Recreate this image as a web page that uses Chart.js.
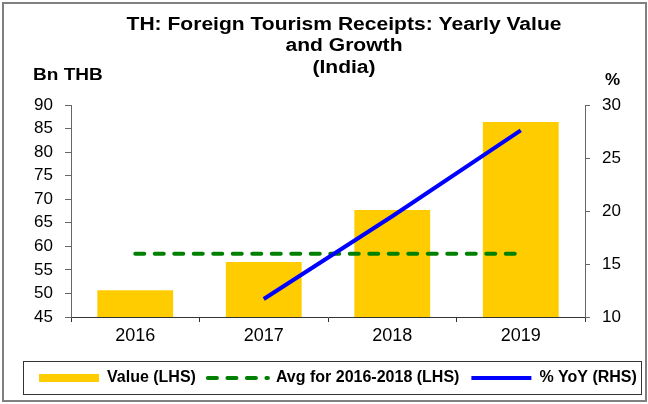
<!DOCTYPE html>
<html>
<head>
<meta charset="utf-8">
<script src="https://cdn.jsdelivr.net/npm/chart.js@4.4.0/dist/chart.umd.min.js"></script>
<style>
html, body { margin: 0; padding: 0; background: #fff; }
canvas { display: block; }
</style>
</head>
<body>
<canvas id="chart-area" width="648" height="404"></canvas>
<script>
// data
var years = ['2016', '2017', '2018', '2019'];
var valueLhs = [50.7, 56.7, 67.7, 86.4];
var avgLhs = [58.4, 58.4, 58.4, 58.4];
var yoyRhs = [null, 11.7, 19.5, 27.6];
var lhsTicks = [45, 50, 55, 60, 65, 70, 75, 80, 85, 90];
var rhsTicks = [10, 15, 20, 25, 30];
var seriesNames = ['Value (LHS)', 'Avg for 2016-2018 (LHS)', '% YoY (RHS)'];
var titleLines = ['TH: Foreign Tourism Receipts: Yearly Value', 'and Growth', '(India)'];

var FONT = "'Liberation Sans', Arial, sans-serif";
// right padding is negative so the legend keeps a single row
var padLeft = 27, padRight = -12, padTop = 105, padBottom = 8;

var decor = {
	id: 'decor',
	beforeDraw: function (chart)
	{
		var ctx = chart.ctx;
		ctx.save();
		ctx.fillStyle = '#fff';
		ctx.fillRect(0, 0, chart.width, chart.height);
		ctx.restore();
	},
	afterDraw: function (chart)
	{
		var ctx = chart.ctx;
		ctx.save();
		// outer frame
		ctx.strokeStyle = '#808080';
		ctx.lineWidth = 2;
		ctx.strokeRect(3, 3, 643, 398);
		// legend box
		ctx.strokeStyle = '#333';
		ctx.lineWidth = 1;
		ctx.strokeRect(23.5, 361.5, 618, 33);

		// title
		ctx.fillStyle = '#000';
		ctx.textAlign = 'center';
		ctx.textBaseline = 'middle';
		ctx.font = 'bold 18px ' + FONT;
		var ys = [25, 46, 68];
		for (var i = 0; i < titleLines.length; i++)
		{
			ctx.save();
			ctx.translate(344, ys[i]);
			ctx.scale(1.17, 1);
			ctx.fillText(titleLines[i], 0, 0);
			ctx.restore();
		}
		// axis units
		ctx.font = 'bold 17px ' + FONT;
		ctx.textAlign = 'left';
		ctx.save();
		ctx.translate(33, 75);
		ctx.scale(1.12, 1);
		ctx.fillText('Bn THB', 0, 0);
		ctx.restore();
		ctx.fillText('%', 605, 80);
		ctx.restore();
	}
};

var config = {
	type: 'bar',
	data: {
		labels: years,
		datasets: [{
			type: 'bar',
			label: seriesNames[0],
			data: valueLhs,
			backgroundColor: '#FFCC00',
			yAxisID: 'y',
			order: 3,
			barPercentage: 0.59,
			categoryPercentage: 1
		}, {
			type: 'line',
			label: seriesNames[1],
			data: avgLhs,
			borderColor: '#008000',
			borderWidth: 4,
			borderDash: [9, 10.5],
			borderCapStyle: 'round',
			pointRadius: 0,
			fill: false,
			yAxisID: 'y',
			order: 2
		}, {
			type: 'line',
			label: seriesNames[2],
			data: yoyRhs,
			borderColor: '#0000FF',
			borderWidth: 4,
			pointRadius: 0,
			fill: false,
			yAxisID: 'y1',
			order: 1
		}]
	},
	options: {
		responsive: false,
		animation: false,
		events: [],
		layout: {
			padding: {left: padLeft, right: padRight, top: padTop, bottom: padBottom}
		},
		plugins: {
			title: {display: false},
			tooltip: {enabled: false},
			legend: {
				position: 'bottom',
				align: 'start',
				labels: {
					color: '#000',
					font: {family: FONT, size: 16, weight: 'bold'},
					padding: 12,
					usePointStyle: true,
					pointStyleWidth: 60,
					generateLabels: function (chart)
					{
						return [
							{text: seriesNames[0], pointStyle: 'line', strokeStyle: '#FFCC00', fillStyle: '#FFCC00', lineWidth: 8, lineDash: [], lineCap: 'butt', datasetIndex: 0},
							{text: seriesNames[1], pointStyle: 'line', strokeStyle: '#008000', fillStyle: '#008000', lineWidth: 4, lineDash: [9, 10.5], lineCap: 'round', datasetIndex: 1},
							{text: seriesNames[2], pointStyle: 'line', strokeStyle: '#0000FF', fillStyle: '#0000FF', lineWidth: 4, lineDash: [], lineCap: 'butt', datasetIndex: 2}
						];
					}
				}
			}
		},
		scales: {
			x: {
				offset: true,
				grid: {offset: true, drawOnChartArea: false, tickLength: 5, color: '#333'},
				border: {color: '#333', width: 1},
				ticks: {color: '#000', font: {family: FONT, size: 18}, padding: 3},
				afterFit: function (s)
				{
					s.height = 404 - padBottom - s.chart.legend.height - 317;
				}
			},
			y: {
				position: 'left',
				min: lhsTicks[0],
				max: lhsTicks[lhsTicks.length - 1],
				grid: {drawOnChartArea: false, tickLength: 6, color: '#666'},
				border: {color: '#666', width: 1},
				ticks: {stepSize: lhsTicks[1] - lhsTicks[0], color: '#000', font: {family: FONT, size: 17}, padding: 12},
				afterFit: function (s)
				{
					s.width = 71 - padLeft;
				}
			},
			y1: {
				position: 'right',
				min: rhsTicks[0],
				max: rhsTicks[rhsTicks.length - 1],
				grid: {drawOnChartArea: false, tickLength: 5, color: '#666'},
				border: {color: '#666', width: 1},
				ticks: {stepSize: rhsTicks[1] - rhsTicks[0], color: '#000', font: {family: FONT, size: 17}, padding: 12},
				afterFit: function (s)
				{
					s.width = 648 - padRight - 585;
				}
			}
		}
	},
	plugins: [decor]
};

var ctx = document.getElementById('chart-area');
var myChart = new Chart(ctx, config);
</script>
</body>
</html>
